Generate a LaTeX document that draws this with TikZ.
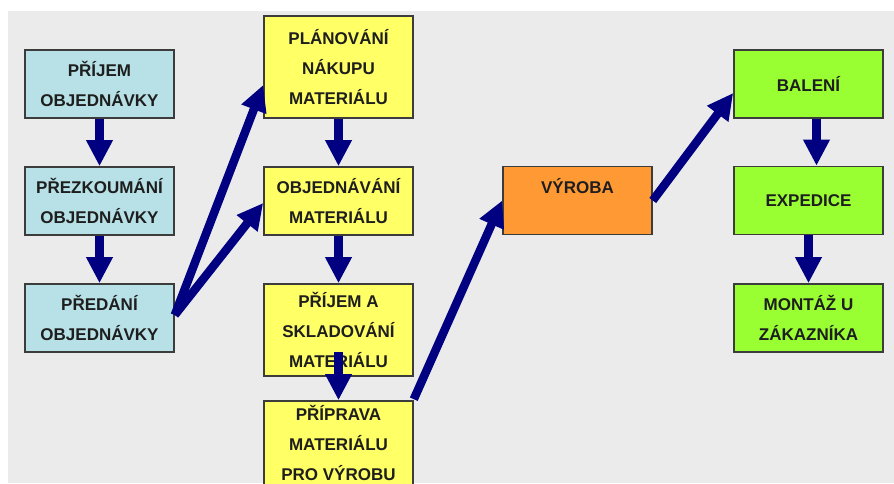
\documentclass[tikz,border=0pt]{standalone}
\usepackage{fontspec}
\setmainfont{Liberation Sans}
\usetikzlibrary{arrows.meta}
\definecolor{panel}{HTML}{EBEBEB}
\definecolor{boxblue}{HTML}{B7E1E6}
\definecolor{boxyellow}{HTML}{FFFF66}
\definecolor{boxorange}{HTML}{FF9933}
\definecolor{boxgreen}{HTML}{99FF33}
\definecolor{flow}{HTML}{000080}
\definecolor{edge}{HTML}{3C3C3C}
\definecolor{ink}{HTML}{1E1E1E}
\tikzset{
  stage/.style={draw=edge, line width=1.6pt, rectangle, minimum width=149pt,
    minimum height=68pt, inner sep=0pt, align=center, text=ink,
    font=\fontsize{17}{30}\selectfont\bfseries},
  bluebox/.style={stage, fill=boxblue},
  yellowbox/.style={stage, fill=boxyellow},
  orangebox/.style={stage, fill=boxorange},
  greenbox/.style={stage, fill=boxgreen},
  flowarrow/.style={draw=flow, line width=8.5pt,
    -{Triangle[width=25pt,length=26pt]}}
}
\begin{document}
\begin{tikzpicture}[x=1pt,y=-1pt]
  % canvas and grey panel
  \path[fill=white] (0,0) rectangle (894,483);
  \useasboundingbox (0,0) rectangle (894,483);
  \path[fill=panel] (8,11) rectangle (894,483);
  \begin{scope}
    \clip (0,0) rectangle (894,483);

    % order handling
    \node[bluebox] (prijem) at (99.5,84) {PŘÍJEM\\OBJEDNÁVKY};
    \node[bluebox] (prezk) at (99.5,201) {PŘEZKOUMÁNÍ\\OBJEDNÁVKY};
    \node[bluebox] (predani) at (99.5,318) {PŘEDÁNÍ\\OBJEDNÁVKY};

    % material
    \node[yellowbox, minimum height=102pt] (plan) at (338.5,67) {PLÁNOVÁNÍ\\NÁKUPU\\MATERIÁLU};
    \node[yellowbox] (objed) at (338.5,201) {OBJEDNÁVÁNÍ\\MATERIÁLU};
    \node[yellowbox, minimum height=92pt] (sklad) at (338.5,330) {PŘÍJEM A\\SKLADOVÁNÍ\\MATERIÁLU};
    \node[yellowbox, minimum height=84pt] (priprava) at (338.5,443) {PŘÍPRAVA\\MATERIÁLU\\PRO VÝROBU};

    % production
    \node[orangebox] (vyroba) at (577.5,200.5) {VÝROBA\\\mbox{}};

    % dispatch
    \node[greenbox] (baleni) at (808.5,84) {BALENÍ};
    \node[greenbox] (expedice) at (808.5,200.5) {EXPEDICE};
    \node[greenbox] (montaz) at (808.5,318) {MONTÁŽ U\\ZÁKAZNÍKA};

    % flow
    \draw[flowarrow] (prijem.south) -- (prezk.north);
    \draw[flowarrow] (prezk.south) -- (predani.north);
    \draw[flowarrow] ([yshift=3pt]predani.east) -- ([yshift=-18pt]plan.west);
    \draw[flowarrow] ([yshift=3pt]predani.east) -- ([yshift=-2pt]objed.west);
    \draw[flowarrow] (plan.south) -- (objed.north);
    \draw[flowarrow] (objed.south) -- (sklad.north);
    \draw[flowarrow] ([yshift=25pt]sklad.south) -- (priprava.north);
    \draw[flowarrow] ([yshift=1pt]priprava.north east) -- (vyroba.west);
    \draw[flowarrow] (vyroba.east) -- ([yshift=-9pt]baleni.west);
    \draw[flowarrow] ([xshift=8pt]baleni.south) -- ([xshift=8pt]expedice.north);
    \draw[flowarrow] (expedice.south) -- (montaz.north);
  \end{scope}
\end{tikzpicture}
\end{document}
